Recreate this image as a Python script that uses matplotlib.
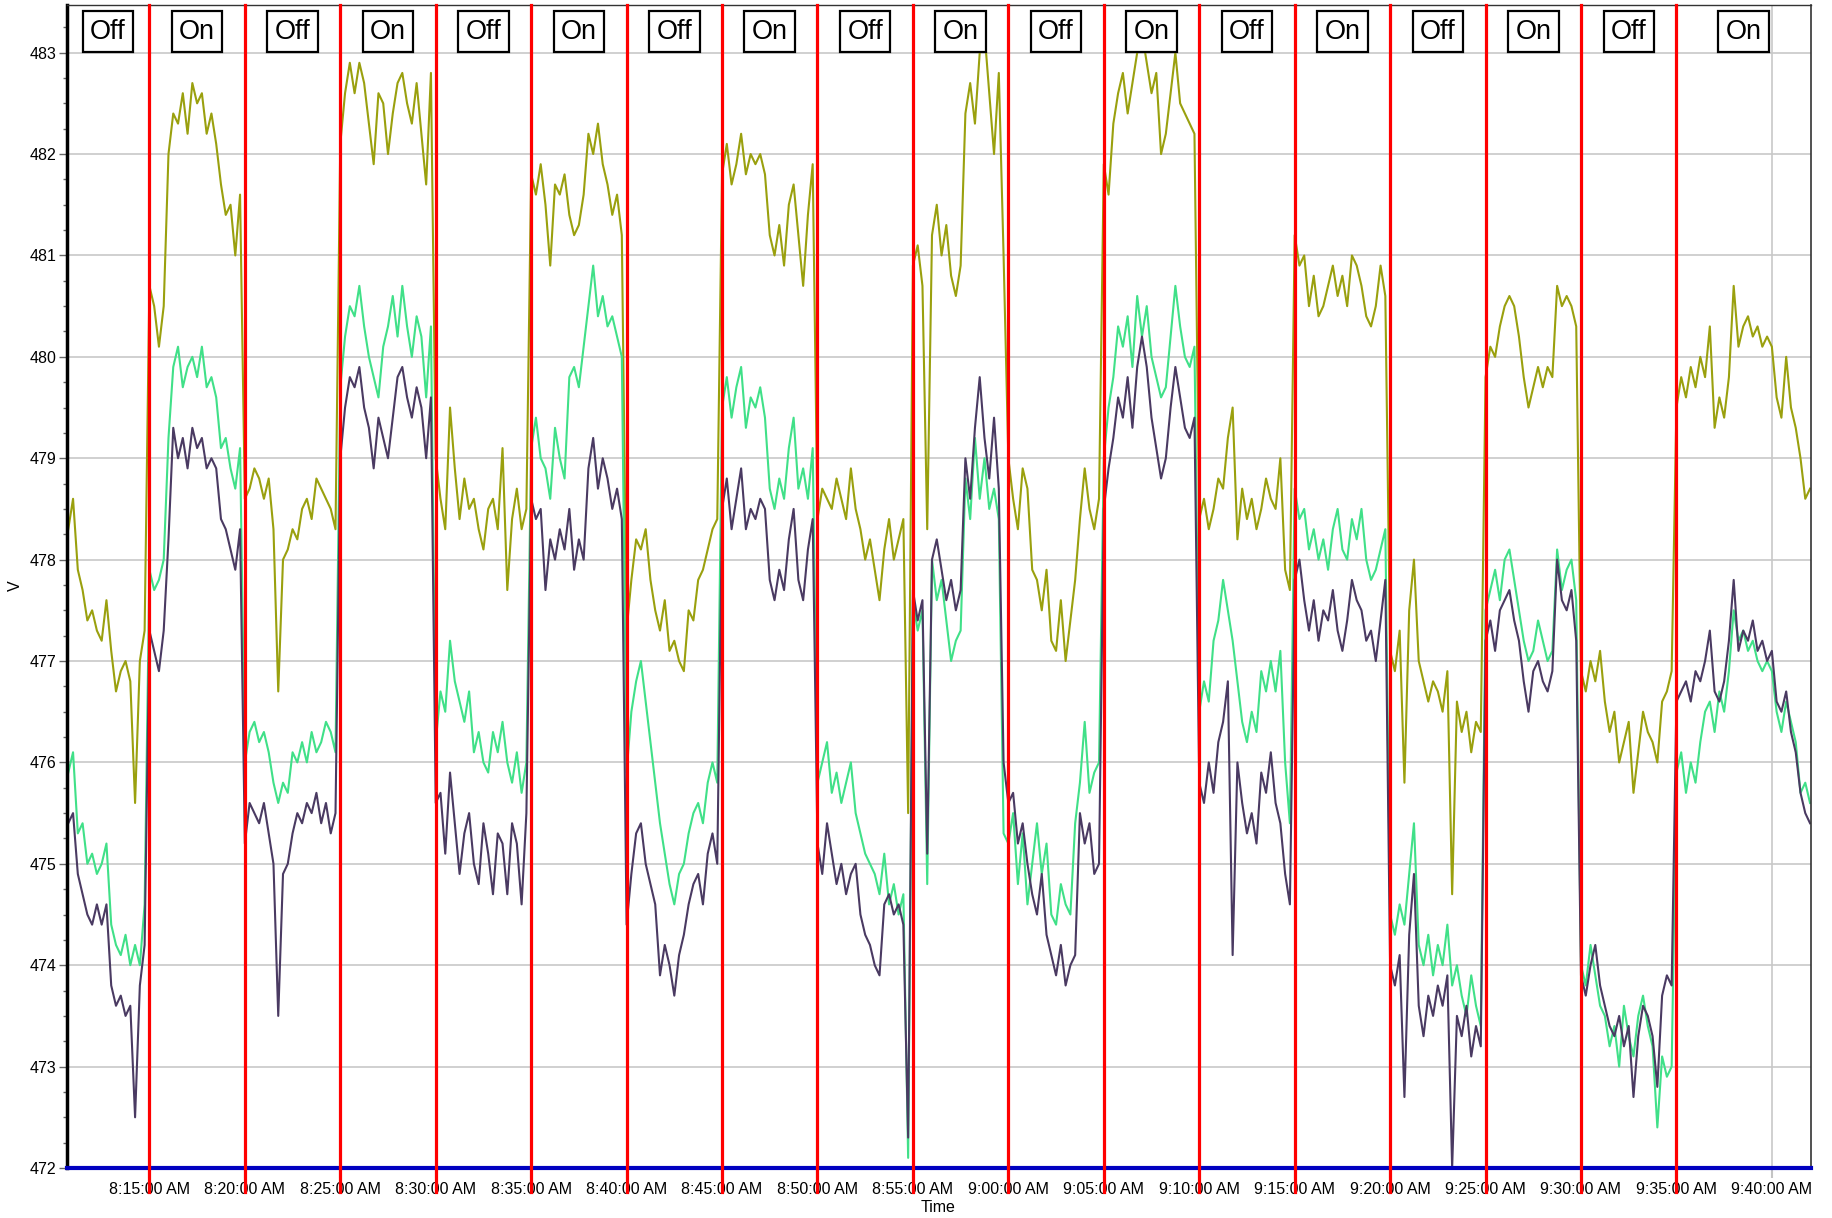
import matplotlib
matplotlib.use("Agg")
import matplotlib.pyplot as plt
import matplotlib.dates as mdates
from matplotlib.ticker import FuncFormatter, MultipleLocator
import pandas as pd

plt.rcParams['font.family'] = ['Liberation Sans', 'DejaVu Sans']

# samples every 15 s starting 8:10:45, one row per 5 minute block
olive = [
    478.3, 478.6, 477.9, 477.7, 477.4, 477.5, 477.3, 477.2, 477.6, 477.1, 476.7, 476.9, 477.0, 476.8, 475.6, 477.0, 477.3,
    480.7, 480.5, 480.1, 480.5, 482.0, 482.4, 482.3, 482.6, 482.2, 482.7, 482.5, 482.6, 482.2, 482.4, 482.1, 481.7, 481.4, 481.5, 481.0, 481.6,
    478.6, 478.7, 478.9, 478.8, 478.6, 478.8, 478.3, 476.7, 478.0, 478.1, 478.3, 478.2, 478.5, 478.6, 478.4, 478.8, 478.7, 478.6, 478.5, 478.3,
    482.1, 482.6, 482.9, 482.6, 482.9, 482.7, 482.3, 481.9, 482.6, 482.5, 482.0, 482.4, 482.7, 482.8, 482.5, 482.3, 482.7, 482.2, 481.7, 482.8,
    479.0, 478.6, 478.3, 479.5, 478.9, 478.4, 478.8, 478.5, 478.6, 478.3, 478.1, 478.5, 478.6, 478.3, 479.1, 477.7, 478.4, 478.7, 478.3, 478.5,
    481.8, 481.6, 481.9, 481.5, 480.9, 481.7, 481.6, 481.8, 481.4, 481.2, 481.3, 481.6, 482.2, 482.0, 482.3, 481.9, 481.7, 481.4, 481.6, 481.2,
    477.3, 477.8, 478.2, 478.1, 478.3, 477.8, 477.5, 477.3, 477.6, 477.1, 477.2, 477.0, 476.9, 477.5, 477.4, 477.8, 477.9, 478.1, 478.3, 478.4,
    481.8, 482.1, 481.7, 481.9, 482.2, 481.8, 482.0, 481.9, 482.0, 481.8, 481.2, 481.0, 481.3, 480.9, 481.5, 481.7, 481.2, 480.7, 481.4, 481.9,
    478.4, 478.7, 478.6, 478.5, 478.8, 478.6, 478.4, 478.9, 478.5, 478.3, 478.0, 478.2, 477.9, 477.6, 478.1, 478.4, 478.0, 478.2, 478.4, 475.5,
    480.9, 481.1, 480.7, 478.3, 481.2, 481.5, 481.0, 481.3, 480.8, 480.6, 480.9, 482.4, 482.7, 482.3, 483.0, 483.2, 482.6, 482.0, 482.8, 481.0,
    479.0, 478.6, 478.3, 478.9, 478.7, 477.9, 477.8, 477.5, 477.9, 477.2, 477.1, 477.6, 477.0, 477.4, 477.8, 478.4, 478.9, 478.5, 478.3, 478.6,
    481.9, 481.6, 482.3, 482.6, 482.8, 482.4, 482.7, 483.0, 483.2, 482.9, 482.6, 482.8, 482.0, 482.2, 482.6, 483.0, 482.5, 482.4, 482.3, 482.2,
    478.4, 478.6, 478.3, 478.5, 478.8, 478.7, 479.2, 479.5, 478.2, 478.7, 478.4, 478.6, 478.3, 478.5, 478.8, 478.6, 478.5, 479.0, 477.9, 477.7,
    481.2, 480.9, 481.0, 480.5, 480.8, 480.4, 480.5, 480.7, 480.9, 480.6, 480.8, 480.5, 481.0, 480.9, 480.7, 480.4, 480.3, 480.5, 480.9, 480.6,
    477.1, 476.9, 477.3, 475.8, 477.5, 478.0, 477.0, 476.8, 476.6, 476.8, 476.7, 476.5, 476.9, 474.7, 476.6, 476.3, 476.5, 476.1, 476.4, 476.3,
    479.8, 480.1, 480.0, 480.3, 480.5, 480.6, 480.5, 480.2, 479.8, 479.5, 479.7, 479.9, 479.7, 479.9, 479.8, 480.7, 480.5, 480.6, 480.5, 480.3,
    476.9, 476.7, 477.0, 476.8, 477.1, 476.6, 476.3, 476.5, 476.0, 476.2, 476.4, 475.7, 476.1, 476.5, 476.3, 476.2, 476.0, 476.6, 476.7, 476.9,
    479.5, 479.8, 479.6, 479.9, 479.7, 480.0, 479.8, 480.3, 479.3, 479.6, 479.4, 479.8, 480.7, 480.1, 480.3, 480.4, 480.2, 480.3, 480.1, 480.2,
    480.1, 479.6, 479.4, 480.0, 479.5, 479.3, 479.0, 478.6, 478.7,
]

green = [
    475.9, 476.1, 475.3, 475.4, 475.0, 475.1, 474.9, 475.0, 475.2, 474.4, 474.2, 474.1, 474.3, 474.0, 474.2, 474.0, 474.6,
    477.9, 477.7, 477.8, 478.0, 479.2, 479.9, 480.1, 479.7, 479.9, 480.0, 479.8, 480.1, 479.7, 479.8, 479.6, 479.1, 479.2, 478.9, 478.7, 479.1,
    476.0, 476.3, 476.4, 476.2, 476.3, 476.1, 475.8, 475.6, 475.8, 475.7, 476.1, 476.0, 476.2, 476.0, 476.3, 476.1, 476.2, 476.4, 476.3, 476.1,
    479.7, 480.2, 480.5, 480.4, 480.7, 480.3, 480.0, 479.8, 479.6, 480.1, 480.3, 480.6, 480.2, 480.7, 480.3, 480.0, 480.4, 480.2, 479.6, 480.3,
    476.2, 476.7, 476.5, 477.2, 476.8, 476.6, 476.4, 476.7, 476.1, 476.3, 476.0, 475.9, 476.3, 476.1, 476.4, 476.0, 475.8, 476.1, 475.7, 476.0,
    479.1, 479.4, 479.0, 478.9, 478.6, 479.3, 479.0, 478.8, 479.8, 479.9, 479.7, 480.1, 480.5, 480.9, 480.4, 480.6, 480.3, 480.4, 480.2, 480.0,
    475.9, 476.5, 476.8, 477.0, 476.6, 476.2, 475.8, 475.4, 475.1, 474.8, 474.6, 474.9, 475.0, 475.3, 475.5, 475.6, 475.4, 475.8, 476.0, 475.8,
    479.5, 479.8, 479.4, 479.7, 479.9, 479.3, 479.6, 479.5, 479.7, 479.4, 478.7, 478.5, 478.8, 478.6, 479.1, 479.4, 478.7, 478.9, 478.6, 479.1,
    475.8, 476.0, 476.2, 475.7, 475.9, 475.6, 475.8, 476.0, 475.5, 475.3, 475.1, 475.0, 474.9, 474.7, 475.1, 474.6, 474.8, 474.5, 474.7, 472.1,
    477.6, 477.3, 477.5, 474.8, 478.0, 477.6, 477.8, 477.4, 477.0, 477.2, 477.3, 478.8, 478.4, 479.2, 478.6, 479.0, 478.5, 478.7, 478.4, 475.3,
    475.2, 475.5, 474.8, 475.3, 474.6, 475.0, 475.4, 474.9, 475.2, 474.5, 474.4, 474.8, 474.6, 474.5, 475.4, 475.8, 476.4, 475.7, 475.9, 476.0,
    479.0, 479.5, 479.8, 480.3, 480.1, 480.4, 479.9, 480.6, 480.2, 480.5, 480.0, 479.8, 479.6, 479.7, 480.2, 480.7, 480.3, 480.0, 479.9, 480.1,
    476.5, 476.8, 476.6, 477.2, 477.4, 477.8, 477.5, 477.2, 476.8, 476.4, 476.2, 476.5, 476.3, 476.9, 476.7, 477.0, 476.7, 477.1, 476.0, 475.4,
    478.7, 478.4, 478.5, 478.1, 478.3, 478.0, 478.2, 477.9, 478.3, 478.5, 478.1, 478.0, 478.4, 478.2, 478.5, 478.0, 477.8, 477.9, 478.1, 478.3,
    474.5, 474.3, 474.6, 474.4, 474.9, 475.4, 474.2, 474.0, 474.3, 473.9, 474.2, 474.0, 474.4, 473.8, 474.0, 473.7, 473.5, 473.9, 473.6, 473.4,
    477.5, 477.7, 477.9, 477.6, 478.0, 478.1, 477.8, 477.5, 477.2, 477.0, 477.1, 477.4, 477.2, 477.0, 477.1, 478.1, 477.7, 477.9, 478.0, 477.6,
    474.0, 473.8, 474.2, 473.9, 473.6, 473.5, 473.2, 473.4, 473.0, 473.6, 473.3, 473.1, 473.5, 473.7, 473.4, 473.2, 472.4, 473.1, 472.9, 473.0,
    475.9, 476.1, 475.7, 476.0, 475.8, 476.2, 476.5, 476.6, 476.3, 476.7, 476.5, 476.9, 477.5, 477.2, 477.3, 477.1, 477.2, 477.0, 476.9, 477.0,
    476.9, 476.5, 476.3, 476.6, 476.4, 476.2, 475.7, 475.8, 475.6,
]

purple = [
    475.4, 475.5, 474.9, 474.7, 474.5, 474.4, 474.6, 474.4, 474.6, 473.8, 473.6, 473.7, 473.5, 473.6, 472.5, 473.8, 474.2,
    477.3, 477.1, 476.9, 477.3, 478.2, 479.3, 479.0, 479.2, 478.9, 479.3, 479.1, 479.2, 478.9, 479.0, 478.9, 478.4, 478.3, 478.1, 477.9, 478.3,
    475.2, 475.6, 475.5, 475.4, 475.6, 475.3, 475.0, 473.5, 474.9, 475.0, 475.3, 475.5, 475.4, 475.6, 475.5, 475.7, 475.4, 475.6, 475.3, 475.5,
    479.0, 479.5, 479.8, 479.7, 479.9, 479.5, 479.3, 478.9, 479.4, 479.2, 479.0, 479.4, 479.8, 479.9, 479.6, 479.4, 479.7, 479.5, 479.0, 479.6,
    475.6, 475.7, 475.1, 475.9, 475.4, 474.9, 475.3, 475.5, 475.0, 474.8, 475.4, 475.1, 474.7, 475.3, 475.2, 474.7, 475.4, 475.2, 474.6, 475.5,
    478.6, 478.4, 478.5, 477.7, 478.2, 478.0, 478.3, 478.1, 478.5, 477.9, 478.2, 478.0, 478.9, 479.2, 478.7, 479.0, 478.8, 478.5, 478.7, 478.4,
    474.4, 474.9, 475.3, 475.4, 475.0, 474.8, 474.6, 473.9, 474.2, 474.0, 473.7, 474.1, 474.3, 474.6, 474.8, 474.9, 474.6, 475.1, 475.3, 475.0,
    478.5, 478.8, 478.3, 478.6, 478.9, 478.3, 478.5, 478.4, 478.6, 478.5, 477.8, 477.6, 477.9, 477.7, 478.2, 478.5, 477.8, 477.6, 478.1, 478.4,
    475.2, 474.9, 475.4, 475.1, 474.8, 475.0, 474.7, 474.9, 475.0, 474.5, 474.3, 474.2, 474.0, 473.9, 474.6, 474.7, 474.5, 474.6, 474.4, 472.3,
    477.7, 477.4, 477.6, 475.1, 478.0, 478.2, 477.9, 477.6, 477.8, 477.5, 477.7, 479.0, 478.6, 479.3, 479.8, 479.2, 478.8, 479.4, 478.7, 476.0,
    475.6, 475.7, 475.2, 475.4, 475.0, 474.7, 474.5, 474.9, 474.3, 474.1, 473.9, 474.2, 473.8, 474.0, 474.1, 475.5, 475.2, 475.4, 474.9, 475.0,
    478.5, 478.9, 479.2, 479.6, 479.4, 479.8, 479.3, 479.9, 480.2, 479.9, 479.4, 479.1, 478.8, 479.0, 479.5, 479.9, 479.6, 479.3, 479.2, 479.4,
    475.8, 475.6, 476.0, 475.7, 476.2, 476.4, 476.8, 474.1, 476.0, 475.6, 475.3, 475.5, 475.2, 475.9, 475.7, 476.1, 475.6, 475.4, 474.9, 474.6,
    477.8, 478.0, 477.6, 477.3, 477.6, 477.2, 477.5, 477.4, 477.7, 477.3, 477.1, 477.4, 477.8, 477.6, 477.5, 477.2, 477.3, 477.0, 477.4, 477.8,
    474.0, 473.8, 474.1, 472.7, 474.3, 474.9, 473.6, 473.3, 473.7, 473.5, 473.8, 473.6, 473.9, 472.0, 473.5, 473.3, 473.6, 473.1, 473.4, 473.2,
    477.2, 477.4, 477.1, 477.5, 477.6, 477.7, 477.4, 477.2, 476.8, 476.5, 476.9, 477.0, 476.8, 476.7, 476.9, 478.0, 477.6, 477.5, 477.7, 477.2,
    473.9, 473.7, 474.0, 474.2, 473.8, 473.6, 473.4, 473.3, 473.5, 473.2, 473.4, 472.7, 473.3, 473.6, 473.5, 473.3, 472.8, 473.7, 473.9, 473.8,
    476.6, 476.7, 476.8, 476.6, 476.9, 476.8, 477.0, 477.3, 476.7, 476.6, 476.8, 477.2, 477.8, 477.1, 477.3, 477.2, 477.4, 477.1, 477.2, 477.0,
    477.1, 476.6, 476.5, 476.7, 476.3, 476.1, 475.7, 475.5, 475.4,
]

switch_times = ["08:15", "08:20", "08:25", "08:30", "08:35", "08:40", "08:45", "08:50", "08:55",
                "09:00", "09:05", "09:10", "09:15", "09:20", "09:25", "09:30", "09:35"]
states = ["Off", "On"] * 9

DAY = "2020-01-01 "
times = pd.date_range(DAY + "08:10:45", periods=len(olive), freq="15s")
x_start = pd.Timestamp(DAY + "08:10:41")
x_end = pd.Timestamp(DAY + "09:42:03")

fig = plt.figure(figsize=(18.32, 12.18), dpi=100)
ax = fig.add_axes([67 / 1832, 50 / 1218, 1744 / 1832, 1163 / 1218])

ax.plot(times, olive, color="#9aa00e", lw=1.5, zorder=2)
ax.plot(times, green, color="#40e088", lw=1.5, zorder=2)
ax.plot(times, purple, color="#4a3a62", lw=1.5, zorder=2)

ax.set_xlim(x_start, x_end)
ax.set_ylim(472, 483.47)

# axes, ticks, grid
ax.yaxis.set_major_locator(MultipleLocator(1))
ax.yaxis.set_minor_locator(MultipleLocator(0.25))
ax.xaxis.set_major_locator(mdates.MinuteLocator(byminute=range(0, 60, 5)))
ax.xaxis.set_major_formatter(FuncFormatter(
    lambda v, pos: mdates.num2date(v).strftime("%I:%M:%S %p").lstrip("0")))
ax.grid(True, which="major", color="#c8c8c8", lw=1.2, zorder=0)
ax.tick_params(axis="x", length=7, width=1.5, color="#c4c4c4", labelsize=11.5, pad=3)
ax.tick_params(axis="y", which="major", length=6, width=1, color="#666666", labelsize=11.5, pad=1.5)
ax.tick_params(axis="y", which="minor", length=3, width=1, color="#666666")

ax.spines["left"].set_linewidth(2.5)
ax.spines["left"].set_color("black")
ax.spines["right"].set_linewidth(1.2)
ax.spines["right"].set_color("#333333")
ax.spines["top"].set_linewidth(1.0)
ax.spines["top"].set_color("#333333")
ax.spines["bottom"].set_linewidth(3)
ax.spines["bottom"].set_color("#0000c0")
ax.spines["bottom"].set_zorder(3)

# on/off switch markers
edges = [x_start] + [pd.Timestamp(DAY + t) for t in switch_times] + [x_end]
for t in edges[1:-1]:
    ax.axvline(t, ymin=-0.021, ymax=1, color="red", lw=2.3, clip_on=False, zorder=4)
for i, state in enumerate(states):
    mid = edges[i] + (edges[i + 1] - edges[i]) / 2
    ax.text(mid, 0.977, state, transform=ax.get_xaxis_transform(), ha="center", va="center",
            fontsize=19.5, zorder=5,
            bbox=dict(boxstyle="square,pad=0.27", fc="white", ec="black", lw=1.6))

fig.text(15 / 1832, 1 - 586 / 1218, "V", rotation=90, ha="center", va="center", fontsize=11.5)
fig.text(938 / 1832, 1 - 1208 / 1218, "Time", ha="center", va="center", fontsize=11.5)

fig.savefig("out.png", dpi=100)
